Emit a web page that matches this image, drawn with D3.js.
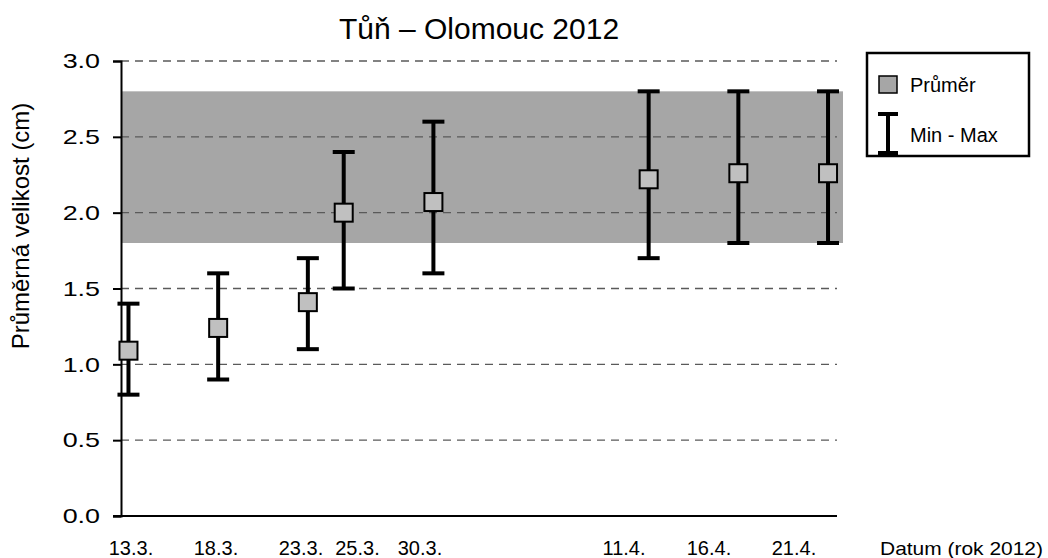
<!DOCTYPE html>
<html>
<head>
<meta charset="utf-8">
<script src="https://cdn.jsdelivr.net/npm/d3@7"></script>
<style>
  body { margin: 0; background: #fff; }
  text { font-family: "Liberation Sans", Arial, sans-serif; fill: #000; }
</style>
</head>
<body>
<div id="chart"></div>
<script>
// Colours
var bandGrey = "#a6a6a6";
var squareGrey = "#c0c0c0";
var gridGrey = "#5a5a5a";

// Data
const sampleDates = ["2012-03-13", "2012-03-18", "2012-03-23", "2012-03-25", "2012-03-30", "2012-04-11", "2012-04-16", "2012-04-21"];
const dateLabels = ["13.3.", "18.3.", "23.3.", "25.3.", "30.3.", "11.4.", "16.4.", "21.4."];
const meanValues = [1.09, 1.24, 1.41, 2.0, 2.07, 2.22, 2.26, 2.26];
const minValues = [0.8, 0.9, 1.1, 1.5, 1.6, 1.7, 1.8, 1.8];
const maxValues = [1.4, 1.6, 1.7, 2.4, 2.6, 2.8, 2.8, 2.8];
const bandRange = [1.8, 2.8];
const yTicks = [0, 0.5, 1.0, 1.5, 2.0, 2.5, 3.0];

const parseDate = d3.utcParse("%Y-%m-%d");
const data = sampleDates.map((d, i) => ({
    date: parseDate(d), label: dateLabels[i],
    mean: meanValues[i], min: minValues[i], max: maxValues[i]
}));

const W = 1048, H = 558;
const svg = d3.select("#chart").append("svg")
    .attr("width", W).attr("height", H);

// scales
const x = d3.scaleUtc()
    .domain([d3.utcHour.offset(data[0].date, -10), d3.utcHour.offset(data[data.length - 1].date, 12)])
    .range([121, 837]);
// the date labels sit on a slightly narrower scale than the marks
const xLab = d3.scaleUtc()
    .domain([data[0].date, data[data.length - 1].date])
    .range([131, 794]);
const y = d3.scaleLinear().domain([0, 3]).range([516, 61]);

// shaded band
svg.append("rect")
    .attr("x", x.range()[0])
    .attr("y", y(bandRange[1]))
    .attr("width", x.range()[1] - x.range()[0] + 6)
    .attr("height", y(bandRange[0]) - y(bandRange[1]))
    .attr("fill", bandGrey);

// dashed gridlines
svg.append("g")
    .selectAll("line")
    .data(yTicks.filter(d => d > 0))
    .enter().append("line")
    .attr("x1", x.range()[0]).attr("x2", x.range()[1])
    .attr("y1", d => y(d)).attr("y2", d => y(d))
    .attr("stroke", gridGrey)
    .attr("stroke-width", 1.3)
    .attr("stroke-dasharray", "8,6");

// Y axis
const yAxis = svg.append("g")
    .attr("transform", `translate(${x.range()[0]},0)`)
    .call(d3.axisLeft(y).tickValues(yTicks).tickFormat(d3.format(".1f")).tickSize(8).tickPadding(13));
yAxis.select(".domain").attr("stroke", "#000").attr("stroke-width", 2);
yAxis.selectAll(".tick line").attr("stroke", "#000").attr("stroke-width", 2);
yAxis.selectAll(".tick text")
    .attr("font-size", 21)
    .attr("font-family", "Liberation Sans, Arial, sans-serif")
    .each(function () {
        const w = this.getComputedTextLength();
        d3.select(this).attr("textLength", w * 1.28).attr("lengthAdjust", "spacingAndGlyphs");
    });

// X axis line
svg.append("line")
    .attr("x1", x.range()[0] - 8).attr("x2", x.range()[1])
    .attr("y1", y(0)).attr("y2", y(0))
    .attr("stroke", "#000").attr("stroke-width", 2);

// X labels, pushed right when they would collide
const labelG = svg.append("g");
let prevRight = -Infinity;
data.forEach(function (d) {
    const t = labelG.append("text")
        .text(d.label)
        .attr("y", 555)
        .attr("font-size", 20)
        .attr("text-anchor", "middle");
    const w = t.node().getComputedTextLength();
    let cx = xLab(d.date);
    if (cx - w / 2 < prevRight + 12) cx = prevRight + 12 + w / 2;
    t.attr("x", cx);
    prevRight = cx + w / 2;
});

svg.append("text")
    .text("Datum (rok 2012)")
    .attr("x", 880).attr("y", 555)
    .attr("font-size", 19)
    .attr("textLength", 163).attr("lengthAdjust", "spacingAndGlyphs");

// error bars
const bars = svg.append("g").selectAll("g")
    .data(data).enter().append("g");
bars.append("line")
    .attr("x1", d => x(d.date)).attr("x2", d => x(d.date))
    .attr("y1", d => y(d.min)).attr("y2", d => y(d.max))
    .attr("stroke", "#000").attr("stroke-width", 4);
bars.selectAll(".cap")
    .data(d => [{ date: d.date, v: d.min }, { date: d.date, v: d.max }])
    .enter().append("line")
    .attr("class", "cap")
    .attr("x1", d => x(d.date) - 11).attr("x2", d => x(d.date) + 11)
    .attr("y1", d => y(d.v)).attr("y2", d => y(d.v))
    .attr("stroke", "#000").attr("stroke-width", 4);

// mean squares
svg.append("g").selectAll("rect")
    .data(data).enter().append("rect")
    .attr("x", d => x(d.date) - 9)
    .attr("y", d => y(d.mean) - 9)
    .attr("width", 18).attr("height", 18)
    .attr("fill", squareGrey)
    .attr("stroke", "#000").attr("stroke-width", 2);

// title
svg.append("text")
    .text("Tůň – Olomouc 2012")
    .attr("x", 479).attr("y", 39)
    .attr("text-anchor", "middle")
    .attr("font-size", 30);

// y title
svg.append("text")
    .text("Průměrná velikost (cm)")
    .attr("transform", "translate(29,226) rotate(-90)")
    .attr("text-anchor", "middle")
    .attr("font-size", 24);

// legend
const legend = svg.append("g");
legend.append("rect")
    .attr("x", 867).attr("y", 53).attr("width", 162).attr("height", 103)
    .attr("fill", "#fff").attr("stroke", "#000").attr("stroke-width", 2.5);
legend.append("rect")
    .attr("x", 879).attr("y", 76).attr("width", 18).attr("height", 17)
    .attr("fill", bandGrey).attr("stroke", "#000").attr("stroke-width", 1.5);
legend.append("text").text("Průměr")
    .attr("x", 910).attr("y", 92).attr("font-size", 20);
legend.append("line")
    .attr("x1", 888).attr("x2", 888).attr("y1", 114).attr("y2", 153)
    .attr("stroke", "#000").attr("stroke-width", 4);
[114, 153].forEach(function (v) {
    legend.append("line")
        .attr("x1", 878).attr("x2", 898).attr("y1", v).attr("y2", v)
        .attr("stroke", "#000").attr("stroke-width", 4);
});
legend.append("text").text("Min - Max")
    .attr("x", 910).attr("y", 142).attr("font-size", 20);
</script>
</body>
</html>
